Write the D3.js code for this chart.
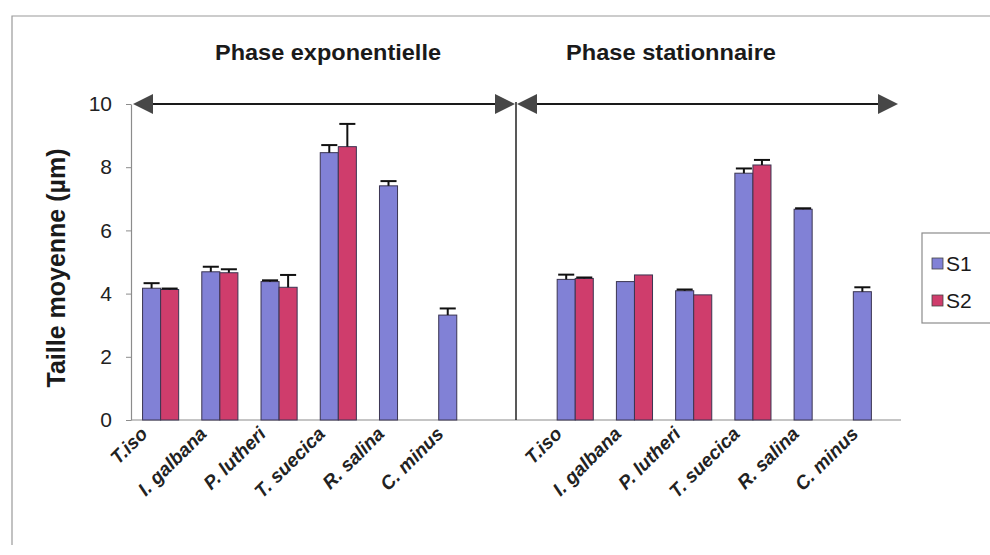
<!DOCTYPE html>
<html>
<head>
<meta charset="utf-8">
<script src="https://cdn.jsdelivr.net/npm/d3@7"></script>
<style>
  body { margin: 0; background: #fff; }
  svg { display: block; font-family: "Liberation Sans", Arial, sans-serif; }
</style>
</head>
<body>
<div id="chart"></div>
<script>
// Data (mean size in µm, with standard deviation)
const species = ["T.iso", "I. galbana", "P. lutheri", "T. suecica", "R. salina", "C. minus"];
const phases = ["Phase exponentielle", "Phase stationnaire"];
const seriesNames = ["S1", "S2"];

const expS1 = [4.17, 4.69, 4.38, 8.46, 7.41, 3.32];
const expS1Err = [0.16, 0.16, 0.04, 0.24, 0.15, 0.21];
const expS2 = [4.13, 4.66, 4.20, 8.65, null, null];
const expS2Err = [0.03, 0.11, 0.39, 0.72, null, null];

const statS1 = [4.45, 4.38, 4.09, 7.81, 6.67, 4.06];
const statS1Err = [0.15, 0.0, 0.04, 0.15, 0.03, 0.14];
const statS2 = [4.48, 4.59, 3.96, 8.07, null, null];
const statS2Err = [0.03, 0.0, 0.0, 0.16, null, null];

const yTicks = [0, 2, 4, 6, 8, 10];

const width = 990;
const height = 555;
const colors = { S1: "#8181d6", S2: "#cf3d6c" };

const svg = d3.select("#chart")
    .append("svg")
    .attr("width", width)
    .attr("height", height);

// Outer frame of the scanned figure (top and left edges visible)
svg.append("path")
    .attr("d", "M12,545 V16 H990")
    .attr("fill", "none")
    .attr("stroke", "#9a9a9a")
    .attr("stroke-width", 1.2);

// One band per species, with an empty band separating the two phases
const slots = [];
species.forEach(s => slots.push("exp|" + s));
slots.push("gap");
species.forEach(s => slots.push("stat|" + s));

const x = d3.scaleBand()
    .domain(slots)
    .range([131, 901])
    .padding(0);

const xs = d3.scaleBand()
    .domain(seriesNames)
    .range([0, x.bandwidth()])
    .paddingInner(0)
    .paddingOuter(0.64);

const y = d3.scaleLinear()
    .domain([0, 10])
    .range([420, 104]);

// Build the bar records from the arrays
const records = [];
function addPhase(prefix, s1, s1e, s2, s2e) {
    species.forEach((s, i) => {
        if (s1[i] != null) records.push({ slot: prefix + s, series: "S1", value: s1[i], err: s1e[i] });
        if (s2[i] != null) records.push({ slot: prefix + s, series: "S2", value: s2[i], err: s2e[i] });
    });
}
addPhase("exp|", expS1, expS1Err, expS2, expS2Err);
addPhase("stat|", statS1, statS1Err, statS2, statS2Err);

// Axes
const yAxis = svg.append("g")
    .attr("transform", `translate(${x.range()[0]},0)`)
    .call(d3.axisLeft(y).tickValues(yTicks).tickSize(5).tickSizeOuter(0).tickPadding(14));
yAxis.select(".domain").attr("stroke", "#8c8c8c").attr("stroke-width", 1.2);
yAxis.selectAll(".tick line").attr("stroke", "#8c8c8c");
yAxis.selectAll(".tick text")
    .attr("font-size", 21)
    .attr("fill", "#222")
    .attr("font-family", "'Liberation Sans', Arial, sans-serif");

svg.append("line")
    .attr("x1", x.range()[0])
    .attr("x2", x.range()[1])
    .attr("y1", y(0))
    .attr("y2", y(0))
    .attr("stroke", "#8c8c8c")
    .attr("stroke-width", 1.2);

// Divider between phases
const xDiv = x("gap") + x.bandwidth() / 2;
svg.append("line")
    .attr("x1", xDiv).attr("x2", xDiv)
    .attr("y1", y(10) - 2).attr("y2", y(0))
    .attr("stroke", "#222")
    .attr("stroke-width", 1.5);

// Bars
svg.selectAll(".bar")
    .data(records)
    .enter()
    .append("rect")
    .attr("class", "bar")
    .attr("x", d => x(d.slot) + xs(d.series))
    .attr("y", d => y(d.value))
    .attr("width", xs.bandwidth())
    .attr("height", d => y(0) - y(d.value))
    .attr("fill", d => colors[d.series])
    .attr("stroke", "#3b3552")
    .attr("stroke-width", 1);

// Error bars (upper half only)
const errs = svg.selectAll(".err")
    .data(records.filter(d => d.err > 0))
    .enter()
    .append("g")
    .attr("class", "err")
    .attr("stroke", "#111")
    .attr("stroke-width", 2);
errs.append("line")
    .attr("x1", d => x(d.slot) + xs(d.series) + xs.bandwidth() / 2)
    .attr("x2", d => x(d.slot) + xs(d.series) + xs.bandwidth() / 2)
    .attr("y1", d => y(d.value))
    .attr("y2", d => y(d.value + d.err));
errs.append("line")
    .attr("x1", d => x(d.slot) + xs(d.series) + 1)
    .attr("x2", d => x(d.slot) + xs(d.series) + xs.bandwidth() - 1)
    .attr("y1", d => y(d.value + d.err))
    .attr("y2", d => y(d.value + d.err));

// Category labels, rotated
svg.selectAll(".xlabel")
    .data(slots.filter(s => s !== "gap"))
    .enter()
    .append("text")
    .attr("class", "xlabel")
    .attr("transform", s => `translate(${x(s) + x.bandwidth() / 2 - 12},${y(0) + 15}) rotate(-45)`)
    .attr("text-anchor", "end")
    .attr("font-size", 19)
    .attr("font-style", "italic")
    .attr("font-weight", "bold")
    .attr("fill", "#222")
    .text(s => s.split("|")[1]);

// Phase arrows at the top of the plot
function arrow(xa, xb) {
    const ya = y(10);
    svg.append("line")
        .attr("x1", xa + 10).attr("x2", xb - 10)
        .attr("y1", ya).attr("y2", ya)
        .attr("stroke", "#1a1a1a")
        .attr("stroke-width", 2);
    svg.append("path")
        .attr("d", `M${xa},${ya} L${xa + 20},${ya - 10} L${xa + 20},${ya + 10} Z`)
        .attr("fill", "#474747");
    svg.append("path")
        .attr("d", `M${xb},${ya} L${xb - 20},${ya - 10} L${xb - 20},${ya + 10} Z`)
        .attr("fill", "#474747");
}
arrow(x.range()[0] + 2, xDiv - 1);
arrow(xDiv + 1, x.range()[1] - 3);

// Phase titles
const titleX = [328, 671];
const titleW = [226, 210];
svg.selectAll(".phase")
    .data(phases)
    .enter()
    .append("text")
    .attr("class", "phase")
    .attr("x", (d, i) => titleX[i] - titleW[i] / 2)
    .attr("y", 60)
    .attr("textLength", (d, i) => titleW[i])
    .attr("lengthAdjust", "spacingAndGlyphs")
    .attr("font-size", 22)
    .attr("font-weight", "bold")
    .attr("fill", "#1a1a1a")
    .text(d => d);

// Y axis title
svg.append("text")
    .attr("transform", `translate(65,${(y(0) + y(10)) / 2 + 6}) rotate(-90)`)
    .attr("text-anchor", "middle")
    .attr("font-size", 25)
    .attr("font-weight", "bold")
    .attr("fill", "#1a1a1a")
    .text("Taille moyenne (µm)");

// Legend
const legend = svg.append("g").attr("transform", "translate(922,233)");
legend.append("rect")
    .attr("width", 80)
    .attr("height", 90)
    .attr("fill", "#fff")
    .attr("stroke", "#8c8c8c")
    .attr("stroke-width", 1.2);
const items = legend.selectAll(".item")
    .data(seriesNames)
    .enter()
    .append("g")
    .attr("transform", (d, i) => `translate(10,${30 + i * 37})`);
items.append("rect")
    .attr("y", -5)
    .attr("width", 11)
    .attr("height", 11)
    .attr("fill", d => colors[d])
    .attr("stroke", "#444")
    .attr("stroke-width", 0.8);
items.append("text")
    .attr("x", 14)
    .attr("y", 8)
    .attr("font-size", 21)
    .attr("fill", "#1a1a1a")
    .text(d => d);
</script>
</body>
</html>
